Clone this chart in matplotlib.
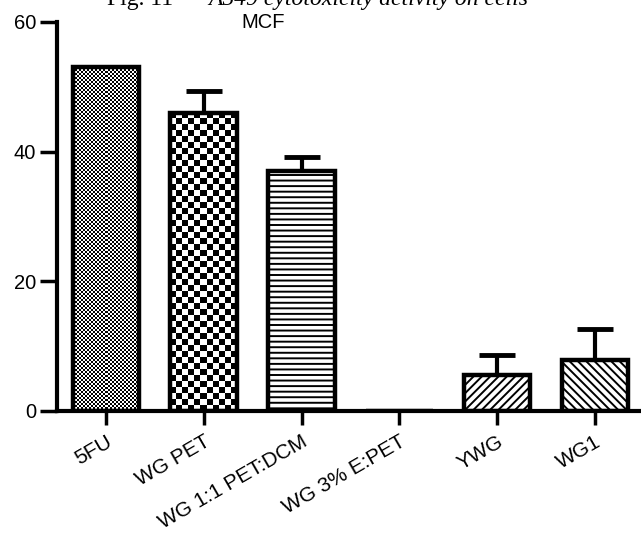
import numpy as np
import matplotlib
matplotlib.use("Agg")
import matplotlib.pyplot as plt

plt.rcParams["font.family"] = ["Liberation Sans", "DejaVu Sans"]
plt.rcParams["hatch.linewidth"] = 1.4

labels = ["5FU", "WG PET", "WG 1:1 PET:DCM", "WG 3% E:PET", "YWG", "WG1"]
means = [53.0, 46.0, 37.0, 0.0, 5.5, 7.8]
errs = [0.0, 3.3, 2.2, 0.0, 3.1, 4.8]
# fill style per bar: ("checker", cell px) or ("hatch", pattern)
fills = [("checker", 2), ("checker", 6), ("hatch", "---"), ("hatch", ""),
         ("hatch", "////"), ("hatch", "\\\\\\\\")]

fig = plt.figure(figsize=(6.41, 5.33), dpi=100)
ax = fig.add_axes([57 / 641, 1 - 411 / 533, 1 - 57 / 641, 389 / 533])

x = np.arange(len(labels))
bars = ax.bar(x, means, width=0.68, color="white", edgecolor="black",
              linewidth=3.2, zorder=2)

# upper error bars only
ax.errorbar(x, means, yerr=[np.zeros(len(errs)), errs], fmt="none",
            ecolor="black", elinewidth=3, capsize=13, capthick=3.5, zorder=1)

ax.set_xlim(-0.5, 5.47)
ax.set_ylim(0, 60)
fig.canvas.draw()

for bar, (kind, spec) in zip(bars, fills):
    h = bar.get_height()
    if h <= 0:
        continue
    if kind == "hatch":
        bar.set_hatch(spec)
        continue
    # checkerboard pattern clipped to the bar, under its outline
    bar.set_facecolor("none")
    bb = bar.get_window_extent()
    nx = max(1, int(round(bb.width / spec)))
    ny = max(1, int(round(bb.height / spec)))
    img = (np.add.outer(np.arange(ny), np.arange(nx)) % 2).astype(float)
    x0 = bar.get_x()
    im = ax.imshow(img, cmap="gray", interpolation="nearest", aspect="auto",
                   extent=(x0, x0 + bar.get_width(), 0, h), zorder=1.5,
                   vmin=0, vmax=1)
    im.set_clip_path(bar)

ax.set_xlim(-0.5, 5.47)
ax.set_ylim(0, 60)

ax.spines["top"].set_visible(False)
ax.spines["right"].set_visible(False)
ax.spines["left"].set_linewidth(3)
ax.spines["bottom"].set_linewidth(3)
ax.spines["left"].set_bounds(0, 60)

ax.set_yticks([0, 20, 40, 60])
ax.tick_params(axis="y", length=12, width=2.5, labelsize=14.5, pad=3)
ax.set_xticks(x)
ax.set_xticklabels(labels, rotation=30, ha="right", rotation_mode="anchor",
                   fontsize=15)
ax.tick_params(axis="x", length=10, width=2.5, pad=5)

fig.text(263 / 641, 1 - 22 / 533, "MCF", ha="center", va="center",
         fontsize=14.5)

# caption line running off the top edge
serif = ["Liberation Serif", "DejaVu Serif"]
head = fig.text(107 / 641, 1 - 5 / 533, "Fig. 11 \u2014 ", ha="left",
                va="baseline", fontsize=17, family=serif)
ax.annotate("A549 cytotoxicity activity on cells", xy=(1, 0),
            xycoords=head, ha="left", va="bottom", fontsize=17,
            family=serif, style="italic", annotation_clip=False)

fig.savefig("out.png", dpi=100)
